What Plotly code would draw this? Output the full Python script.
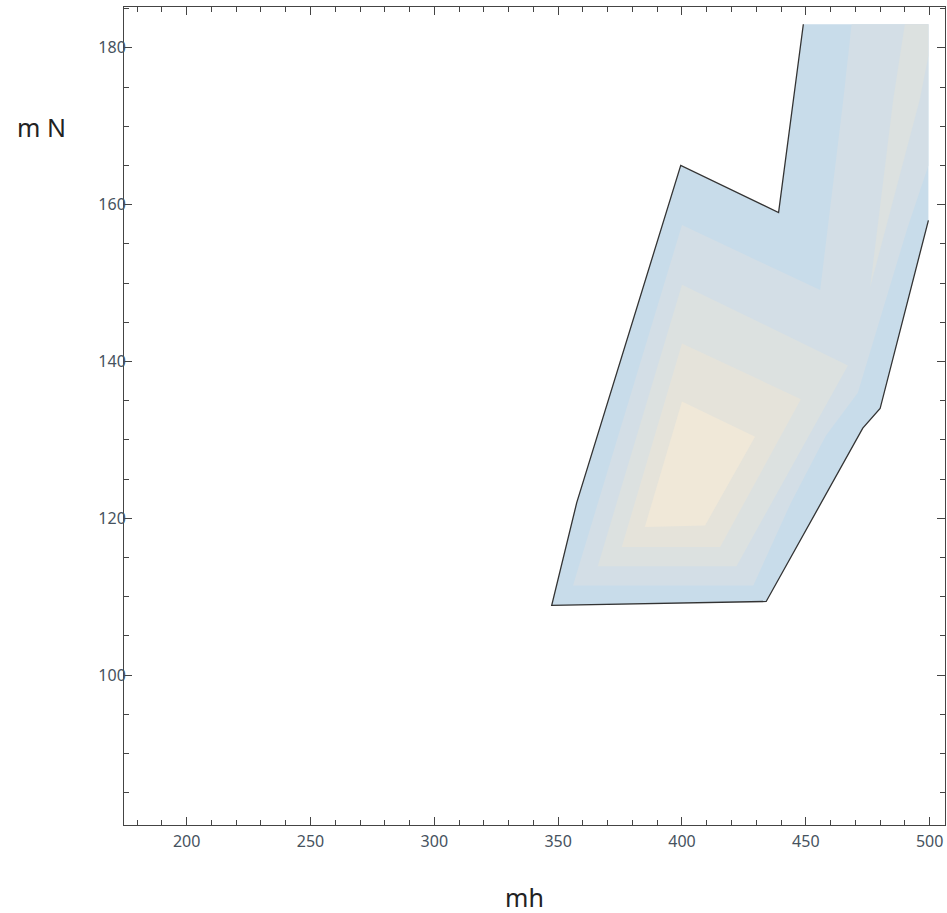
import plotly.graph_objects as go

# ---- data (mh, m N) ----
# outer allowed region (level 0)
region_mh = [347.4, 357.5, 399.5, 439.0, 449.0, 499.5, 499.5, 480.0, 473.0, 434.0]
region_mN = [108.9, 122.0, 165.0, 159.0, 183.0, 183.0, 158.0, 134.0, 131.5, 109.4]

# boundary drawn in black (open path, no line along the top and right cut)
edge_mh = [449.0, 439.0, 399.5, 357.5, 347.4, 434.0, 473.0, 480.0, 499.5]
edge_mN = [183.0, 159.0, 165.0, 122.0, 108.9, 109.4, 131.5, 134.0, 158.0]

# contour band 1
band1_mh = [356.0, 428.8, 444.0, 458.0, 471.0, 491.0, 499.5, 499.5, 468.5, 465.0, 455.8, 400.0]
band1_mN = [111.45, 111.45, 122.0, 130.5, 136.0, 157.0, 165.0, 183.0, 183.0, 173.0, 149.1, 157.4]

# contour band 2 (main lobe and narrow streak at upper right)
band2_mh = [366.0, 422.0, 467.0, 400.0]
band2_mN = [113.9, 113.9, 139.5, 149.8]
streak_mh = [490.0, 499.5, 499.5, 496.0, 476.0, 485.3]
streak_mN = [183.0, 183.0, 179.0, 173.4, 149.5, 173.4]

# contour band 3
band3_mh = [375.7, 415.4, 448.0, 400.0]
band3_mN = [116.35, 116.35, 135.2, 142.3]

# contour band 4 (centre)
band4_mh = [385.0, 409.3, 429.5, 400.0]
band4_mN = [118.9, 119.1, 130.4, 134.9]

level_colors = ["#c8dcea", "#d3dee6", "#dce1e0", "#e5e3da", "#f0e8d8"]

x_ticks = [200, 250, 300, 350, 400, 450, 500]
y_ticks = [100, 120, 140, 160, 180]

fig = go.Figure()

def band(xs, ys, color):
    fig.add_trace(go.Scatter(
        x=xs + [xs[0]], y=ys + [ys[0]], mode="lines", fill="toself",
        fillcolor=color, line=dict(width=0, color=color),
        hoverinfo="skip", showlegend=False))

band(region_mh, region_mN, level_colors[0])
band(band1_mh, band1_mN, level_colors[1])
band(band2_mh, band2_mN, level_colors[2])
band(streak_mh, streak_mN, level_colors[2])
band(band3_mh, band3_mN, level_colors[3])
band(band4_mh, band4_mN, level_colors[4])

fig.add_trace(go.Scatter(
    x=edge_mh, y=edge_mN, mode="lines",
    line=dict(color="#333333", width=1.3),
    hoverinfo="skip", showlegend=False))

axis_common = dict(
    showgrid=False, zeroline=False, showline=True, linecolor="#444444",
    linewidth=1, mirror="allticks", ticks="inside", ticklen=8,
    tickcolor="#444444", tickwidth=1,
    tickfont=dict(family="Noto Sans", size=16, color="#46525e"),
)

fig.update_xaxes(range=[174.7, 506.2], tickvals=x_ticks,
                 minor=dict(dtick=10, ticks="inside", ticklen=5,
                            tickcolor="#444444", tickwidth=1),
                 ticklabelstandoff=2,
                 **axis_common)
fig.update_yaxes(range=[80.9, 185.2], tickvals=y_ticks,
                 minor=dict(dtick=5, ticks="inside", ticklen=5,
                            tickcolor="#444444", tickwidth=1),
                 ticklabelstandoff=-6,
                 **axis_common)

fig.add_annotation(text="mh", xref="paper", yref="paper", x=0.488, y=-0.088,
                   showarrow=False, xanchor="center", yanchor="middle",
                   font=dict(family="Noto Sans", size=25, color="#222222"))
fig.add_annotation(text="m N", xref="paper", yref="paper", x=-0.10, y=0.853,
                   showarrow=False, xanchor="center", yanchor="middle",
                   font=dict(family="Noto Sans", size=25, color="#222222"))

fig.update_layout(
    width=947, height=913,
    margin=dict(l=124, r=2, t=7, b=88, autoexpand=False),
    plot_bgcolor="white", paper_bgcolor="white",
)

# remove the default page margin so the figure fills the window exactly
page_fix = ("document.body.style.margin='0';"
            "document.body.style.overflow='hidden';"
            "document.documentElement.style.overflow='hidden';")

fig.write_html("out.html", post_script=page_fix,
               config={"displayModeBar": False})
